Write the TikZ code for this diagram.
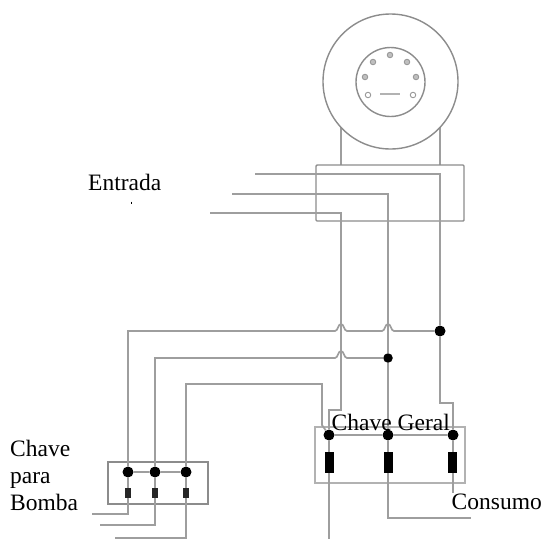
\documentclass[tikz,border=0pt]{standalone}
\usepackage{fontspec}
\setmainfont{Liberation Serif}
\tikzset{
  wire/.style={draw=black!38,line width=1.7pt,line join=miter},
  frame/.style={draw=black!45,line width=1.4pt},
  pin/.style={circle,fill=black,inner sep=0pt,minimum size=#1},
  pin/.default=11pt,
  pole/.style={fill=black,draw=none,inner sep=0pt},
  hole/.style={circle,draw=black!40,fill=black!25,line width=.9pt,inner sep=0pt,minimum size=5.5pt},
  lab/.style={font=\fontsize{23.5}{26}\selectfont,text=black,inner sep=0pt,anchor=base west}
}
\begin{document}
\begin{tikzpicture}[x=1pt,y=-1pt]
\useasboundingbox[fill=white] (0,0) rectangle (543,539);
% meter
\draw[wire] (341,127) -- (341,165);
\draw[wire] (440,127) -- (440,165);
\node[circle,draw=black!45,fill=white,line width=1.4pt,minimum size=135pt,inner sep=0pt] (meter) at (390.5,81.5) {};
\node[circle,draw=black!45,line width=1.4pt,minimum size=69pt,inner sep=0pt] (dial) at (390.5,82) {};
\foreach \n/\p in {a/{373,62},b/{390,55},c/{407,62},d/{365,77},e/{416,77}}
  \node[hole] (h\n) at (\p) {};
\foreach \n/\p in {f/{368,95},g/{413,95}}
  \node[hole,fill=white] (h\n) at (\p) {};
\draw[wire,draw=black!30] (380,94) -- (400,94);
% entry box
\node[frame,rounded corners=1pt,minimum width=148pt,minimum height=56pt,inner sep=0pt] (entrybox) at (390,193) {};
% main switch
\node[frame,draw=black!30,line width=1.8pt,minimum width=150pt,minimum height=56pt,inner sep=0pt] (mainbox) at (390,455) {};
% pump switch
\node[frame,minimum width=100pt,minimum height=42pt,inner sep=0pt] (pumpbox) at (158,483) {};
% pins
\node[pin] (m1) at (329,435) {};
\node[pin] (m2) at (388,435) {};
\node[pin] (m3) at (453,435) {};
\node[pin] (j1) at (440,331) {};
\node[pin=9.5pt] (j2) at (388,358) {};
\node[pin] (p1) at (128,472) {};
\node[pin] (p2) at (155,472) {};
\node[pin] (p3) at (186,472) {};
% free ends
\coordinate (in1) at (255,174);
\coordinate (in2) at (232,194);
\coordinate (in3) at (210,213);
% wires
\draw[wire] (in1) -| (j1);
\draw[wire] (in2) -| (j2);
\draw[wire] (in3) -| (341,410) -| (m1);
\draw[wire] (j2) -- (m2);
\draw[wire] (j1) -- (440,403) -| (m3);
\draw[wire] (j1) -- (394,331) .. controls (391,331) and (391,324) .. (388,324) .. controls (385,324) and (385,331) .. (382,331)
  -- (347,331) .. controls (344,331) and (344,324) .. (341,324) .. controls (338,324) and (338,331) .. (335,331) -| (p1);
\draw[wire] (j2) -- (347,358) .. controls (344,358) and (344,351) .. (341,351) .. controls (338,351) and (338,358) .. (335,358) -| (p2);
\draw[wire] (p3) |- (322,384) -- (322,425) -- (m1);
\draw[wire] (m1) -- (m2) -- (m3);
\draw[wire] (p1) -- (p2) -- (p3);
\coordinate (o1) at (329,539);
\coordinate (o2) at (471,518);
\coordinate (o3) at (453,495);
\draw[wire] (m1) -- (o1);
\draw[wire] (m2) |- (o2);
\draw[wire] (m3) -- (o3);
\coordinate (b1) at (92,514);
\coordinate (b2) at (100,525);
\coordinate (b3) at (115,538);
\draw[wire] (p1) |- (b1);
\draw[wire] (p2) |- (b2);
\draw[wire] (p3) |- (b3);
% poles
\foreach \n/\x in {1/329,2/388,3/452}
  \node[pole,minimum width=9pt,minimum height=21pt] (f\n) at (\x,462.5) {};
\foreach \n/\x in {1/128,2/155,3/186}
  \node[pole,fill=black!85,minimum width=5.5pt,minimum height=10pt] (g\n) at (\x,493) {};
% labels
\node[lab] (entrada) at (88,190) {Entrada};
\draw[black,line width=.9pt] (131,201.5) -- (131,204);
\node[lab] (geral) at (331.5,430) {Chave Geral};
\node[lab,fill=white,inner ysep=0pt] (consumo) at (451.5,509) {Consumo};
\node[lab] (chave) at (10,456) {Chave};
\node[lab] (para) at (10,483) {para};
\node[lab] (bomba) at (10,510) {Bomba};
\end{tikzpicture}
\end{document}
